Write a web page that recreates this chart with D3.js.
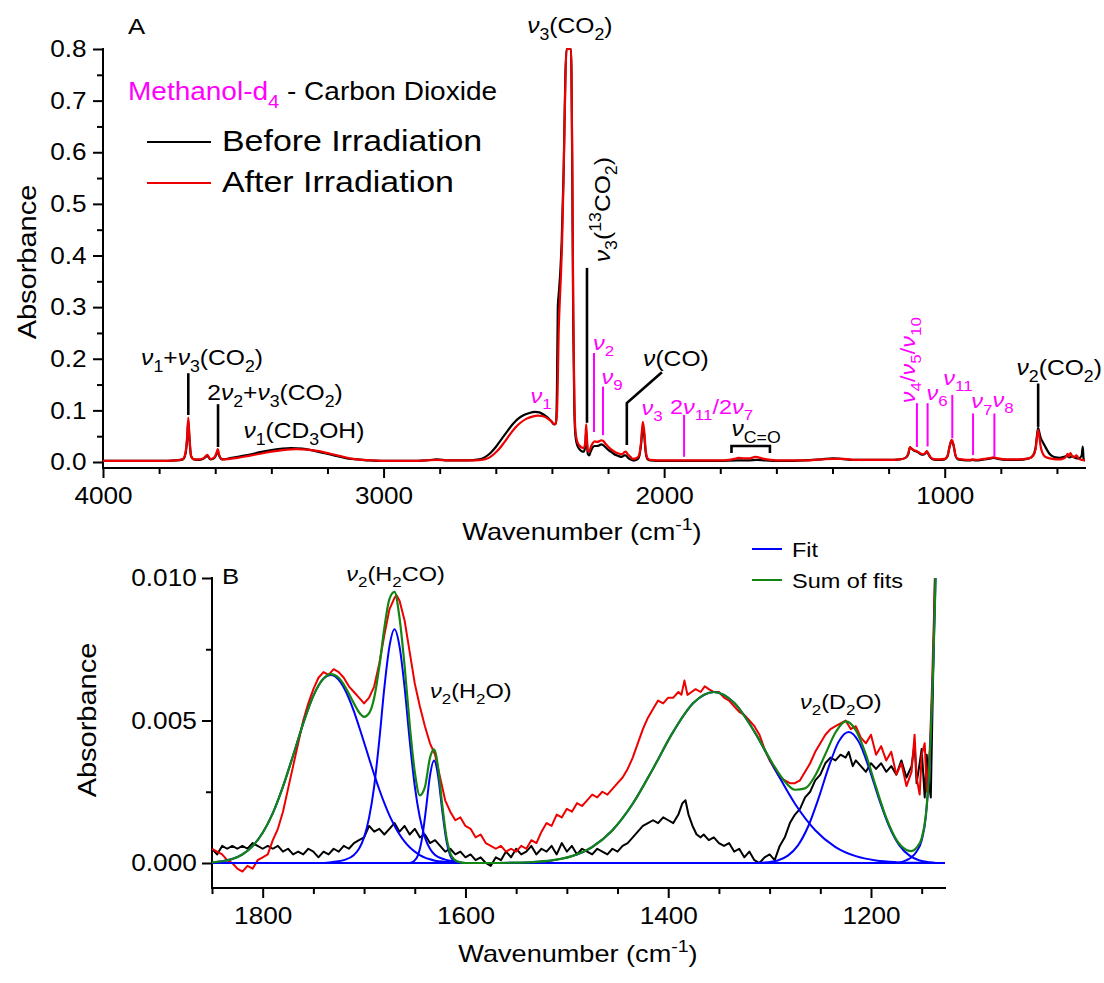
<!DOCTYPE html>
<html>
<head>
<meta charset="utf-8">
<script src="https://cdn.jsdelivr.net/npm/d3@7"></script>
<style>
  body { margin: 0; background: #fff; }
  svg text { font-family: "Liberation Sans", Arial, sans-serif; white-space: pre; }
</style>
</head>
<body>
<svg id="chart" width="1104" height="983"></svg>
<script>
// ---------- Panel A : full spectrum, [wavenumber, absorbance] ----------
var beforeA = [[4000,0.002],[3900,0.002],[3800,0.002],[3740,0.003],[3715,0.005],[3706,0.016],[3700,0.045],[3696,0.080],[3692,0.045],[3686,0.011],[3676,0.005],[3655,0.004],[3640,0.007],[3628,0.012],[3618,0.005],[3605,0.007],[3595,0.016],[3591,0.022],[3586,0.012],[3575,0.005],[3550,0.007],[3520,0.010],[3480,0.014],[3440,0.019],[3400,0.023],[3360,0.026],[3330,0.027],[3290,0.026],[3250,0.022],[3210,0.017],[3170,0.012],[3130,0.007],[3090,0.005],[3050,0.003],[3000,0.002],[2900,0.002],[2850,0.003],[2810,0.005],[2770,0.003],[2700,0.003],[2660,0.005],[2640,0.009],[2620,0.017],[2600,0.029],[2580,0.044],[2560,0.059],[2540,0.073],[2520,0.084],[2500,0.091],[2480,0.095],[2460,0.097],[2445,0.096],[2430,0.092],[2415,0.086],[2402,0.079],[2392,0.073],[2386,0.075],[2382,0.14],[2379,0.30],[2375,0.33],[2370,0.37],[2365,0.43],[2358,0.57],[2352,0.75],[2348,0.80],[2332,0.80],[2328,0.60],[2324,0.27],[2320,0.10],[2316,0.05],[2310,0.033],[2302,0.025],[2294,0.021],[2286,0.020],[2281,0.032],[2278,0.06],[2275,0.035],[2272,0.015],[2267,0.013],[2262,0.020],[2255,0.028],[2248,0.031],[2240,0.031],[2232,0.032],[2225,0.034],[2218,0.033],[2210,0.029],[2200,0.024],[2190,0.020],[2180,0.016],[2170,0.013],[2160,0.011],[2150,0.010],[2142,0.013],[2137,0.013],[2130,0.009],[2120,0.005],[2111,0.003],[2100,0.004],[2090,0.009],[2082,0.035],[2076,0.070],[2071,0.052],[2066,0.020],[2060,0.006],[2050,0.003],[2000,0.002],[1900,0.002],[1800,0.002],[1740,0.003],[1700,0.003],[1670,0.004],[1640,0.003],[1580,0.002],[1500,0.003],[1440,0.005],[1400,0.007],[1370,0.006],[1320,0.004],[1260,0.004],[1200,0.004],[1160,0.005],[1140,0.008],[1130,0.015],[1124,0.028],[1118,0.026],[1110,0.022],[1099,0.020],[1088,0.016],[1078,0.014],[1070,0.016],[1064,0.020],[1058,0.015],[1050,0.008],[1042,0.005],[1020,0.004],[1000,0.005],[990,0.011],[982,0.031],[975,0.042],[968,0.031],[962,0.013],[955,0.006],[940,0.004],[910,0.003],[900,0.004],[890,0.003],[860,0.005],[835,0.007],[825,0.008],[810,0.006],[780,0.004],[740,0.004],[700,0.007],[685,0.013],[676,0.028],[671,0.052],[667,0.066],[663,0.058],[658,0.047],[652,0.040],[644,0.032],[636,0.024],[628,0.017],[618,0.012],[605,0.009],[590,0.008],[575,0.010],[565,0.012],[555,0.009],[545,0.011],[535,0.008],[522,0.007],[512,0.012],[508,0.030],[505,0.006],[500,0.003]];

var afterA = [[4000,0.002],[3900,0.002],[3800,0.002],[3740,0.003],[3715,0.006],[3706,0.018],[3700,0.05],[3696,0.086],[3692,0.05],[3686,0.012],[3676,0.005],[3655,0.005],[3640,0.008],[3628,0.014],[3618,0.006],[3605,0.008],[3595,0.018],[3591,0.025],[3586,0.014],[3575,0.005],[3550,0.006],[3520,0.008],[3480,0.012],[3440,0.016],[3400,0.020],[3360,0.023],[3310,0.025],[3270,0.024],[3230,0.021],[3190,0.016],[3150,0.011],[3110,0.006],[3070,0.004],[3030,0.003],[3000,0.002],[2900,0.002],[2850,0.003],[2810,0.004],[2770,0.003],[2700,0.003],[2650,0.004],[2625,0.008],[2605,0.016],[2590,0.024],[2570,0.038],[2550,0.053],[2530,0.067],[2510,0.077],[2490,0.084],[2470,0.088],[2450,0.090],[2435,0.089],[2420,0.086],[2405,0.080],[2395,0.075],[2388,0.073],[2383,0.085],[2380,0.13],[2376,0.25],[2372,0.31],[2368,0.36],[2364,0.42],[2358,0.56],[2352,0.74],[2348,0.80],[2332,0.80],[2328,0.62],[2324,0.30],[2320,0.12],[2316,0.06],[2310,0.04],[2302,0.032],[2294,0.028],[2286,0.027],[2281,0.04],[2278,0.073],[2275,0.045],[2272,0.022],[2267,0.02],[2262,0.028],[2255,0.036],[2248,0.040],[2240,0.039],[2232,0.040],[2225,0.042],[2218,0.041],[2210,0.036],[2200,0.030],[2190,0.025],[2180,0.021],[2170,0.018],[2160,0.016],[2150,0.015],[2142,0.019],[2137,0.020],[2130,0.015],[2120,0.010],[2111,0.006],[2100,0.007],[2090,0.012],[2082,0.040],[2076,0.078],[2071,0.060],[2066,0.025],[2060,0.008],[2050,0.004],[2000,0.003],[1900,0.003],[1800,0.003],[1770,0.004],[1750,0.006],[1735,0.008],[1715,0.007],[1695,0.007],[1675,0.010],[1665,0.009],[1645,0.006],[1620,0.004],[1580,0.003],[1500,0.003],[1440,0.005],[1400,0.006],[1360,0.006],[1320,0.004],[1260,0.004],[1200,0.004],[1160,0.005],[1140,0.008],[1130,0.016],[1124,0.029],[1118,0.026],[1110,0.023],[1099,0.021],[1088,0.017],[1078,0.015],[1070,0.017],[1064,0.021],[1058,0.016],[1050,0.009],[1042,0.006],[1020,0.005],[1000,0.006],[990,0.012],[982,0.032],[975,0.043],[968,0.032],[962,0.014],[955,0.007],[940,0.005],[910,0.004],[900,0.005],[890,0.004],[860,0.006],[835,0.008],[825,0.009],[810,0.007],[780,0.005],[740,0.005],[700,0.007],[685,0.012],[676,0.025],[671,0.048],[667,0.062],[663,0.050],[658,0.030],[652,0.018],[644,0.011],[632,0.008],[615,0.006],[595,0.005],[580,0.006],[568,0.010],[562,0.016],[557,0.011],[552,0.017],[546,0.012],[540,0.009],[530,0.013],[522,0.006],[512,0.004],[500,0.003]];

// ---------- Panel B : 1850-1127 cm-1 zoom ----------
var beforeB = [[1850,0.0005],[1845,0.0003],[1840,0.0006],[1835,0.0005],[1830,0.0006],[1825,0.0005],[1820,0.0006],[1815,0.0005],[1810,0.0007],[1805,0.0006],[1800,0.0005],[1795,0.0006],[1790,0.0005],[1785,0.0006],[1780,0.0004],[1775,0.0005],[1770,0.0003],[1765,0.0004],[1760,0.0003],[1755,0.0005],[1750,0.0004],[1745,0.0002],[1740,0.0004],[1735,0.0003],[1730,0.0005],[1725,0.0004],[1720,0.0006],[1715,0.0005],[1710,0.0007],[1705,0.0008],[1700,0.0009],[1695,0.0013],[1690,0.0011],[1685,0.0012],[1680,0.0010],[1675,0.0012],[1670,0.0014],[1665,0.0011],[1660,0.0013],[1655,0.0010],[1650,0.0012],[1645,0.0009],[1640,0.0010],[1635,0.0007],[1630,0.0008],[1625,0.0006],[1620,0.0004],[1615,0.0005],[1610,0.0003],[1605,0.0004],[1600,0.0002],[1595,0.0003],[1590,0.0001],[1585,0.0002],[1580,0.0000],[1575,-0.0001],[1570,0.0002],[1565,0.0001],[1560,0.0004],[1555,0.0002],[1550,0.0005],[1545,0.0003],[1540,0.0004],[1535,0.0006],[1530,0.0003],[1525,0.0005],[1520,0.0004],[1515,0.0006],[1510,0.0003],[1505,0.0007],[1500,0.0004],[1495,0.0006],[1490,0.0003],[1485,0.0005],[1480,0.0004],[1475,0.0003],[1470,0.0005],[1465,0.0004],[1460,0.0003],[1455,0.0005],[1450,0.0004],[1445,0.0006],[1440,0.0007],[1435,0.0009],[1430,0.0011],[1425,0.0013],[1420,0.0014],[1415,0.0015],[1410,0.0014],[1405,0.0016],[1400,0.0015],[1395,0.0014],[1390,0.0017],[1386,0.0021],[1383,0.0022],[1380,0.0017],[1376,0.0013],[1372,0.0010],[1368,0.0009],[1365,0.0010],[1360,0.0008],[1355,0.0009],[1350,0.0007],[1345,0.0006],[1340,0.0007],[1335,0.0004],[1330,0.0005],[1325,0.0002],[1320,0.0004],[1315,0.0001],[1310,0.0000],[1305,0.0002],[1300,0.0003],[1295,0.0001],[1290,0.0006],[1285,0.0009],[1280,0.0014],[1275,0.0017],[1270,0.0019],[1265,0.0023],[1260,0.0025],[1255,0.0029],[1250,0.0031],[1245,0.0035],[1240,0.0037],[1235,0.0036],[1230,0.0038],[1225,0.0037],[1222,0.0039],[1218,0.0034],[1215,0.0036],[1210,0.0034],[1205,0.0032],[1200,0.0035],[1195,0.0033],[1190,0.0035],[1185,0.0032],[1180,0.0034],[1175,0.0031],[1170,0.0036],[1165,0.0030],[1160,0.0034],[1157,0.0042],[1155,0.0028],[1152,0.0035],[1150,0.0040],[1147,0.0023],[1145,0.0038],[1143,0.0028],[1141,0.0023],[1139,0.0060],[1137,0.0100],[1135,0.0130]];

var afterB = [[1850,0.0005],[1845,0.0004],[1840,0.0003],[1835,0.0001],[1830,0.0000],[1825,-0.0002],[1820,-0.0003],[1815,-0.0001],[1810,-0.0002],[1805,0.0001],[1800,0.0002],[1795,0.0003],[1790,0.0008],[1785,0.0012],[1780,0.0018],[1775,0.0026],[1770,0.0034],[1765,0.0042],[1760,0.0050],[1755,0.0056],[1750,0.0061],[1745,0.0065],[1740,0.0067],[1735,0.0066],[1730,0.0068],[1725,0.0067],[1720,0.0065],[1715,0.0062],[1710,0.0060],[1705,0.0058],[1700,0.0056],[1695,0.0058],[1690,0.0062],[1685,0.0070],[1680,0.0080],[1675,0.0089],[1670,0.0093],[1668,0.0094],[1665,0.0092],[1660,0.0085],[1655,0.0074],[1650,0.0063],[1645,0.0055],[1640,0.0048],[1635,0.0042],[1630,0.0038],[1625,0.0030],[1620,0.0022],[1615,0.0018],[1610,0.0015],[1605,0.0016],[1600,0.0013],[1595,0.0012],[1590,0.0009],[1585,0.0010],[1580,0.0007],[1575,0.0006],[1570,0.0005],[1565,0.0006],[1560,0.0004],[1555,0.0005],[1550,0.0004],[1545,0.0006],[1540,0.0005],[1535,0.0008],[1530,0.0007],[1525,0.0011],[1520,0.0014],[1515,0.0013],[1510,0.0017],[1505,0.0016],[1500,0.0019],[1495,0.0018],[1490,0.0021],[1485,0.0020],[1480,0.0022],[1475,0.0024],[1470,0.0023],[1465,0.0025],[1460,0.0024],[1455,0.0026],[1450,0.0028],[1445,0.0030],[1440,0.0033],[1435,0.0037],[1430,0.0042],[1425,0.0047],[1420,0.0051],[1415,0.0054],[1410,0.0057],[1405,0.0056],[1400,0.0058],[1395,0.0058],[1390,0.0060],[1387,0.0059],[1384,0.0064],[1381,0.0059],[1377,0.0060],[1373,0.0061],[1368,0.0060],[1364,0.0062],[1360,0.0061],[1355,0.0060],[1350,0.0060],[1345,0.0058],[1340,0.0057],[1335,0.0055],[1330,0.0053],[1325,0.0052],[1320,0.0050],[1315,0.0048],[1310,0.0045],[1305,0.0040],[1300,0.0036],[1295,0.0033],[1290,0.0030],[1285,0.0029],[1280,0.0028],[1275,0.0028],[1270,0.0029],[1265,0.0032],[1260,0.0035],[1255,0.0039],[1250,0.0042],[1245,0.0045],[1240,0.0047],[1235,0.0048],[1230,0.0049],[1225,0.0050],[1220,0.0047],[1215,0.0048],[1210,0.0044],[1205,0.0042],[1200,0.0045],[1195,0.0038],[1190,0.0041],[1185,0.0036],[1180,0.0039],[1175,0.0031],[1170,0.0035],[1165,0.0027],[1160,0.0032],[1157,0.0045],[1155,0.0030],[1152,0.0024],[1150,0.0038],[1147,0.0042],[1145,0.0025],[1142,0.0040],[1140,0.0060],[1138,0.0085],[1136,0.0110],[1134,0.0140]];

// individual fitted bands (blue) and their sum (green)
var fit1 = [[1850,0.00002],[1840,0.00006],[1830,0.00014],[1820,0.0003],[1810,0.00059],[1800,0.00106],[1790,0.00175],[1780,0.00268],[1770,0.00377],[1760,0.0049],[1750,0.00587],[1740,0.00647],[1733,0.0066],[1725,0.00643],[1720,0.00616],[1710,0.00532],[1705,0.00479],[1700,0.00423],[1695,0.00366],[1690,0.0031],[1685,0.00258],[1680,0.0021],[1675,0.00167],[1670,0.00131],[1665,0.001],[1660,0.00075],[1655,0.00055],[1650,0.0004],[1645,0.00028],[1640,0.00019],[1635,0.00013],[1630,0.00008],[1620,0.00004],[1610,0.00001],[1600,0],[1127,0]];
var fit2 = [[1850,0],[1740,0],[1730,0.00004],[1720,0.0001],[1710,0.00028],[1705,0.0005],[1700,0.0009],[1695,0.0016],[1690,0.0027],[1685,0.0043],[1680,0.00615],[1675,0.00759],[1670,0.0082],[1665,0.00759],[1660,0.00615],[1655,0.0043],[1650,0.0027],[1645,0.0016],[1640,0.0009],[1635,0.0005],[1630,0.00028],[1620,0.00012],[1610,0.00005],[1600,0],[1127,0]];
var fit3 = [[1850,0],[1655,0],[1651,0.00006],[1647,0.00026],[1643,0.00083],[1639,0.00187],[1635,0.00306],[1631,0.0036],[1627,0.00306],[1623,0.00187],[1619,0.00083],[1615,0.00026],[1611,0.00006],[1607,0],[1127,0]];
var fit4 = [[1850,0],[1575,0],[1555,0.00001],[1535,0.00003],[1515,0.00009],[1495,0.00024],[1475,0.00056],[1455,0.00115],[1435,0.00208],[1415,0.00331],[1395,0.00461],[1375,0.00562],[1355,0.006],[1335,0.00562],[1315,0.00461],[1295,0.00331],[1275,0.00208],[1255,0.00115],[1235,0.00056],[1215,0.00024],[1195,0.00009],[1175,0.00003],[1155,0.00001],[1135,0],[1127,0]];
var fit5 = [[1850,0],[1312,0],[1302,0.00003],[1292,0.00009],[1282,0.00026],[1272,0.00062],[1262,0.00128],[1252,0.00224],[1242,0.00334],[1232,0.00425],[1222,0.0046],[1212,0.00425],[1202,0.00334],[1192,0.00224],[1182,0.00128],[1172,0.00062],[1162,0.00026],[1152,0.00009],[1142,0.00003],[1132,0],[1127,0]];
var fit6 = [[1850,0],[1175,0],[1165,0.0001],[1160,0.0002],[1155,0.0004],[1150,0.0008],[1146,0.0016],[1143,0.003],[1141,0.0045],[1139,0.0065],[1137,0.009],[1135,0.012],[1133,0.016]];
var fitSum = [[1850,0.00002],[1840,0.00006],[1830,0.00014],[1820,0.0003],[1810,0.00059],[1800,0.00106],[1790,0.00175],[1780,0.00268],[1770,0.00377],[1760,0.0049],[1750,0.00587],[1740,0.00647],[1733,0.00663],[1725,0.0065],[1720,0.00626],[1710,0.0056],[1705,0.00529],[1700,0.00513],[1695,0.00526],[1690,0.0058],[1685,0.00688],[1680,0.00825],[1675,0.00926],[1670,0.00951],[1665,0.00859],[1660,0.0069],[1655,0.00486],[1650,0.0032],[1645,0.00237],[1640,0.00266],[1635,0.00369],[1631,0.00399],[1627,0.00335],[1623,0.00207],[1619,0.00096],[1615,0.00035],[1611,0.00012],[1605,0.00002],[1600,0],[1575,0],[1555,0.00001],[1535,0.00003],[1515,0.00009],[1495,0.00024],[1475,0.00056],[1455,0.00115],[1435,0.00208],[1415,0.00331],[1395,0.00461],[1375,0.00562],[1355,0.006],[1335,0.00562],[1315,0.00461],[1295,0.00337],[1285,0.00286],[1275,0.00257],[1265,0.00262],[1255,0.00307],[1245,0.00382],[1235,0.00458],[1225,0.00497],[1215,0.00466],[1205,0.0038],[1195,0.00266],[1185,0.00159],[1175,0.00082],[1165,0.00046],[1160,0.00042],[1155,0.00054],[1150,0.00087],[1146,0.00165],[1143,0.00302],[1141,0.0045],[1139,0.0065],[1137,0.009],[1135,0.012],[1133,0.016]];

// ---------- ticks ----------
var ticksAx = [4000, 3000, 2000, 1000];
var minorAx = [3800, 3600, 3400, 3200, 2800, 2600, 2400, 2200, 1800, 1600, 1400, 1200, 800, 600];
var ticksAy = [0, 0.1, 0.2, 0.3, 0.4, 0.5, 0.6, 0.7, 0.8];
var minorAy = [0.05, 0.15, 0.25, 0.35, 0.45, 0.55, 0.65, 0.75];
var ticksBx = [1800, 1600, 1400, 1200];
var minorBx = [1850, 1750, 1700, 1650, 1550, 1500, 1450, 1350, 1300, 1250, 1150];
var ticksBy = [0, 0.005, 0.01];
var minorBy = [0.0025, 0.0075];

// ---------- peak assignments, positions in data units ----------
var labelsA = [
  { text: "ν_{1}+ν_{3}(CO_{2})", at: [3647, 0.188], anchor: "middle", line: [[3696, 0.172], [3696, 0.091]] },
  { text: "2ν_{2}+ν_{3}(CO_{2})", at: [3387, 0.120], anchor: "middle", line: [[3590, 0.112], [3590, 0.029]] },
  { text: "ν_{1}(CD_{3}OH)", at: [3284, 0.046], anchor: "middle" },
  { text: "ν_{3}(CO_{2})", at: [2336, 0.831], anchor: "middle" },
  { text: "ν_{3}(^{13}CO_{2})", at: [2193, 0.387], rotate: -90, line: [[2275, 0.376], [2275, 0.076]] },
  { text: "ν(CO)", at: [1958, 0.185], anchor: "middle", line: [[2008, 0.174], [2133, 0.114], [2133, 0.033]] },
  { text: "ν_{C=O}", at: [1760, 0.050], line: [[1760, 0.0174], [1760, 0.031], [1623, 0.031], [1623, 0.0174]] },
  { text: "ν_{2}(CO_{2})", at: [744, 0.168], line: [[667, 0.152], [667, 0.068]] }
];
var labelsAmag = [
  { text: "ν_{1}", at: [2439, 0.114], anchor: "middle" },
  { text: "ν_{2}", at: [2254, 0.217], line: [[2250, 0.211], [2250, 0.058]] },
  { text: "ν_{9}", at: [2223, 0.152], line: [[2218, 0.146], [2218, 0.052]] },
  { text: "ν_{3}", at: [2081, 0.091] },
  { text: "2ν_{11}/2ν_{7}", at: [1979, 0.093], line: [[1929, 0.091], [1929, 0.010]] },
  { text: "ν_{4}/ν_{5}/ν_{10}", at: [1106, 0.114], rotate: -90, line: [[1099, 0.114], [1099, 0.029]] },
  { text: "ν_{6}", at: [1065, 0.120], line: [[1061, 0.114], [1061, 0.030]] },
  { text: "ν_{11}", at: [1005, 0.149], line: [[973, 0.130], [973, 0.046]] },
  { text: "ν_{7}", at: [905, 0.104], line: [[899, 0.094], [899, 0.0135]] },
  { text: "ν_{8}", at: [830, 0.107], line: [[823, 0.094], [823, 0.0103]] }
];
var labelsB = [
  { text: "ν_{2}(H_{2}CO)", at: [1669, 0.0099], anchor: "middle" },
  { text: "ν_{2}(H_{2}O)", at: [1635, 0.0058] },
  { text: "ν_{2}(D_{2}O)", at: [1270, 0.0054] }
];

var RED = "#ee0000", MAG = "#ff00ff", BLUE = "#0000ff", GREEN = "#138513";

var svg = d3.select("#chart");

var xA = d3.scaleLinear().domain([4000, 500]).range([103, 1085]);
var yA = d3.scaleLinear().domain([0, 0.8]).range([462, 49]);
var xB = d3.scaleLinear().domain([1850, 1127]).range([212, 945]);
var yB = d3.scaleLinear().domain([0, 0.01]).range([863, 578]);
var axisYA = 468, axisYB = 888;

var defs = svg.append("defs");
defs.append("clipPath").attr("id", "clipA").append("rect")
  .attr("x", 103).attr("y", 46).attr("width", 982).attr("height", axisYA - 46);
defs.append("clipPath").attr("id", "clipB").append("rect")
  .attr("x", 212).attr("y", 578).attr("width", 733).attr("height", axisYB - 578);

// text with sub/superscripts, stretched horizontally like the original
function rich(g, x, y, segs, o) {
  o = o || {};
  var size = o.size || 22, sx = o.sx || 1.12;
  if (typeof segs === "string") segs = [[segs, o.color || "#000"]];
  var t = g.append("text")
    .attr("transform", "translate(" + x + "," + y + ")" + (o.rotate ? " rotate(" + o.rotate + ")" : "") + " scale(" + sx + ",1)")
    .attr("text-anchor", o.anchor || "start")
    .attr("font-size", size);
  var cur = 0;
  segs.forEach(function (seg) {
    var toks = seg[0].match(/_\{[^}]*\}|\^\{[^}]*\}|ν|[^_^ν]+/g);
    toks.forEach(function (tok) {
      var kind = "n", s = tok;
      if (tok.indexOf("_{") === 0) { kind = "sub"; s = tok.slice(2, -1); }
      else if (tok.indexOf("^{") === 0) { kind = "sup"; s = tok.slice(2, -1); }
      else if (tok === "ν") kind = "nu";
      var off = kind === "sub" ? 0.3 * size : kind === "sup" ? -0.42 * size : 0;
      var ts = t.append("tspan").text(s).attr("dy", off - cur).attr("fill", seg[1]);
      cur = off;
      if (kind === "sub" || kind === "sup") ts.attr("font-size", size * 0.72);
      if (kind === "nu") ts.attr("font-style", "italic");
    });
  });
  return t;
}

function drawAxes(x, y, xAt, yTop, majX, minX, majY, minY, fmtY, padY) {
  var g = svg.append("g");
  g.append("g").attr("transform", "translate(0," + xAt + ")")
    .call(d3.axisBottom(x).tickValues(minX).tickSize(6).tickFormat(""));
  g.append("g").attr("transform", "translate(0," + xAt + ")").attr("class", "lab")
    .call(d3.axisBottom(x).tickValues(majX).tickSize(10).tickPadding(9).tickFormat(d3.format("d")));
  var x0 = x.range()[0];
  g.append("g").attr("transform", "translate(" + x0 + ",0)")
    .call(d3.axisLeft(y).tickValues(minY).tickSize(6).tickFormat(""));
  g.append("g").attr("transform", "translate(" + x0 + ",0)").attr("class", "lab")
    .call(d3.axisLeft(y).tickValues(majY).tickSize(10).tickPadding(padY).tickFormat(fmtY));
  g.selectAll(".domain").remove();
  g.selectAll(".tick line").attr("stroke-width", 2);
  g.selectAll(".lab .tick text").attr("font-size", 24).attr("fill", "#000")
    .attr("transform", "scale(1.09,1)");
  g.append("line").attr("x1", x0).attr("x2", x.range()[1]).attr("y1", xAt).attr("y2", xAt)
    .attr("stroke", "#000").attr("stroke-width", 2).attr("stroke-linecap", "square");
  g.append("line").attr("x1", x0).attr("x2", x0).attr("y1", yTop).attr("y2", xAt)
    .attr("stroke", "#000").attr("stroke-width", 2).attr("stroke-linecap", "square");
}

function sorted(arr) {
  return arr.slice().sort(function (a, b) { return a[0] - b[0]; });
}

function curve(x, y, clip, data, color, width, smooth) {
  var line = d3.line()
    .x(function (d) { return x(d[0]); })
    .y(function (d) { return y(d[1]); })
    .curve(smooth ? d3.curveMonotoneX : d3.curveLinear);
  svg.append("path")
    .attr("clip-path", "url(#" + clip + ")")
    .attr("d", line(sorted(data)))
    .attr("fill", "none")
    .attr("stroke", color)
    .attr("stroke-width", width)
    .attr("stroke-linejoin", "round");
}

function annotate(list, x, y, color, lw, size) {
  var g = svg.append("g");
  list.forEach(function (d) {
    if (d.line) {
      g.append("path")
        .attr("d", d3.line().x(function (p) { return x(p[0]); }).y(function (p) { return y(p[1]); })(d.line))
        .attr("fill", "none").attr("stroke", color).attr("stroke-width", lw);
    }
    rich(g, x(d.at[0]), y(d.at[1]), d.text, { color: color, anchor: d.anchor, rotate: d.rotate, size: size });
  });
}

// ================= Panel A =================
drawAxes(xA, yA, axisYA, yA(0.8), ticksAx, minorAx, ticksAy, minorAy, d3.format(".1f"), 5);
curve(xA, yA, "clipA", beforeA, "#000", 2.2, true);
curve(xA, yA, "clipA", afterA, RED, 2.2, true);
annotate(labelsA, xA, yA, "#000", 2.6, 22);
annotate(labelsAmag, xA, yA, MAG, 2, 21);

rich(svg, 128, 34, "A", { size: 23 });
rich(svg, 128, 100, [["Methanol-d_{4}", MAG], [" - Carbon Dioxide", "#000"]], { size: 25 });
svg.append("line").attr("x1", 147).attr("x2", 211).attr("y1", 142).attr("y2", 142)
  .attr("stroke", "#000").attr("stroke-width", 2.2);
rich(svg, 222, 151, "Before Irradiation", { size: 29, sx: 1.17 });
svg.append("line").attr("x1", 147).attr("x2", 211).attr("y1", 183).attr("y2", 183)
  .attr("stroke", RED).attr("stroke-width", 2.2);
rich(svg, 222, 192, "After Irradiation", { size: 29, sx: 1.17 });

rich(svg, 36, 262, "Absorbance", { size: 25, sx: 1.16, rotate: -90, anchor: "middle" });
rich(svg, 582, 540, "Wavenumber (cm^{-1})", { size: 24, sx: 1.13, anchor: "middle" });

// ================= Panel B =================
drawAxes(xB, yB, axisYB, yB(0.01), ticksBx, minorBx, ticksBy, minorBy, d3.format(".3f"), 4);
curve(xB, yB, "clipB", beforeB, "#000", 2, false);
curve(xB, yB, "clipB", afterB, RED, 2, false);
[fit1, fit2, fit3, fit4, fit5, fit6].forEach(function (f) {
  curve(xB, yB, "clipB", f, BLUE, 2, true);
});
curve(xB, yB, "clipB", fitSum, GREEN, 2.2, true);
annotate(labelsB, xB, yB, "#000", 2, 21);

rich(svg, 222, 584, "B", { size: 23 });
svg.append("line").attr("x1", 752).attr("x2", 782).attr("y1", 549).attr("y2", 549)
  .attr("stroke", BLUE).attr("stroke-width", 2);
rich(svg, 792, 557, "Fit", { size: 21 });
svg.append("line").attr("x1", 752).attr("x2", 782).attr("y1", 580).attr("y2", 580)
  .attr("stroke", GREEN).attr("stroke-width", 2);
rich(svg, 792, 588, "Sum of fits", { size: 21 });

rich(svg, 96, 720, "Absorbance", { size: 25, sx: 1.16, rotate: -90, anchor: "middle" });
rich(svg, 578, 962, "Wavenumber (cm^{-1})", { size: 24, sx: 1.13, anchor: "middle" });
</script>
</body>
</html>
